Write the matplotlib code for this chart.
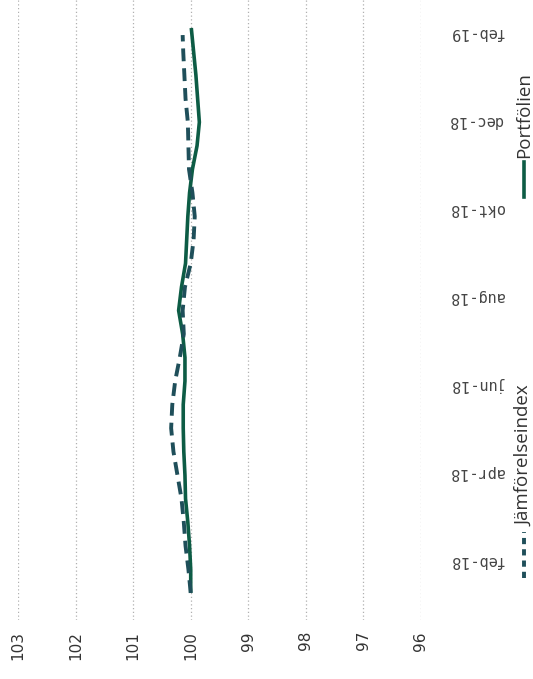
import numpy as np
import matplotlib
matplotlib.use("Agg")
import matplotlib.pyplot as plt
from matplotlib.lines import Line2D

# tidsaxel (halvmånader), värden
manader = ["feb-18", "apr-18", "jun-18", "aug-18", "okt-18", "dec-18", "feb-19"]
portfoljen = [100.00, 100.00, 100.02, 100.05, 100.09, 100.10, 100.12, 100.13, 100.13,
              100.10, 100.10, 100.14, 100.21, 100.16, 100.09, 100.07, 100.05, 100.02,
              99.97, 99.89, 99.85, 99.88, 99.91, 99.95, 99.99]
jamforelse = [100.00, 100.04, 100.09, 100.12, 100.16, 100.23, 100.30, 100.34, 100.32,
              100.27, 100.19, 100.12, 100.14, 100.10, 100.00, 99.95, 99.93, 99.97,
              100.03, 100.04, 100.05, 100.09, 100.11, 100.13, 100.14]
varden = [103, 102, 101, 100, 99, 98, 97, 96]

gron = "#0d5c45"
bla = "#1f4f5a"

W, H = 533, 679
fig = plt.figure(figsize=(W / 100, H / 100), dpi=100)
# diagrammet är vridet 90 grader: värden vågrätt, tid lodrätt
ax = fig.add_axes([18 / W, (H - 620) / H, 403 / W, 620 / H])

t = np.arange(len(portfoljen))
ax.plot(portfoljen, t, color=gron, lw=2.6, solid_capstyle="butt")
# jämförelseindex slutar något tidigare än portföljen
tj = t.astype(float)
tj[-1] -= 0.3
ax.plot(jamforelse, tj, color=bla, lw=2.8, dashes=(3.3, 1.8))

ax.set_xlim(103, 96)
ax.set_ylim(-1.15, 25.19)
ax.set_xticks(varden)
ax.set_xticklabels([str(v) for v in varden], rotation=90, fontsize=11,
                   color="#333333", va="top")
ax.grid(axis="x", color="#b0b0b0", linestyle=(0, (1, 2)), lw=0.9)
ax.tick_params(axis="x", length=0, pad=8)

pos = np.linspace(1.36, 23.8, len(manader))
ax.yaxis.tick_right()
ax.set_yticks(pos)
ax.set_yticklabels(manader, rotation=180, fontsize=11, color="#444444",
                   family="DejaVu Sans Mono", va="center")
ax.tick_params(axis="y", length=0, pad=20)
for s in ax.spines.values():
    s.set_visible(False)

# förklaring, vriden som diagrammet
lx = 524 / W
fig.add_artist(Line2D([lx, lx], [1 - 578 / H, 1 - 532 / H], color=bla,
                      lw=2.8, dashes=(1.6, 1.3)))
fig.text(lx, 1 - 526 / H, "Jämförelseindex", rotation=90, fontsize=13.5,
         family="Open Sans", color="#333333", ha="center", va="bottom")
fig.add_artist(Line2D([lx, lx], [1 - 197 / H, 1 - 162 / H], color=gron,
                      lw=2.6))
fig.text(lx, 1 - 158 / H, "Portfölien", rotation=90, fontsize=13.5,
         family="Open Sans", color="#333333", ha="center", va="bottom")

fig.savefig("out.png", dpi=100)
